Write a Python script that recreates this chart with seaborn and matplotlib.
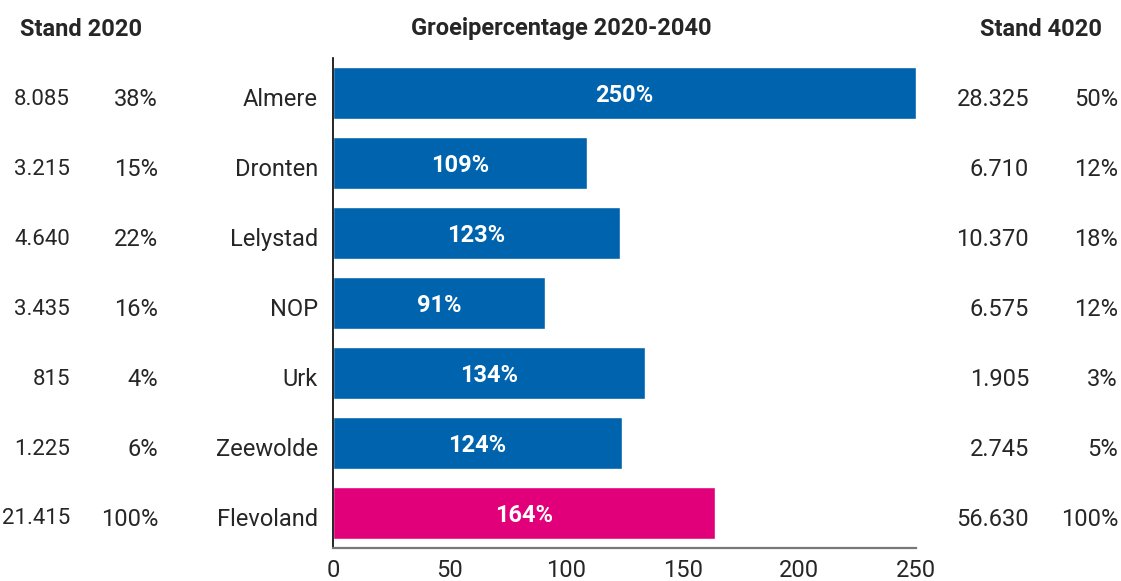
import matplotlib
matplotlib.use("Agg")
import matplotlib.pyplot as plt
import matplotlib.transforms as mtransforms
import pandas as pd
import seaborn as sns

# ─── Data ────────────────────────────────────────────────────────────────────
gemeenten = ["Almere", "Dronten", "Lelystad", "NOP", "Urk", "Zeewolde", "Flevoland"]
groei = [250, 109, 123, 91, 134, 124, 164]
stand_2020 = ["8.085", "3.215", "4.640", "3.435", "815", "1.225", "21.415"]
aandeel_2020 = ["38%", "15%", "22%", "16%", "4%", "6%", "100%"]
stand_4020 = ["28.325", "6.710", "10.370", "6.575", "1.905", "2.745", "56.630"]
aandeel_4020 = ["50%", "12%", "18%", "12%", "3%", "5%", "100%"]
xticks = [0, 50, 100, 150, 200, 250]

BLAUW = "#0063AE"
ROZE = "#E2007A"

sns.set_theme(style="white")
plt.rcParams["font.family"] = ["Roboto", "DejaVu Sans"]

df = pd.DataFrame({"gemeente": gemeenten, "groei": groei})
df["groep"] = ["totaal" if g == "Flevoland" else "gemeente" for g in gemeenten]

fig = plt.figure(figsize=(11.21, 5.81), dpi=100)
ax = fig.add_axes([333 / 1121, 33 / 581, 583 / 1121, 490 / 581])

sns.barplot(data=df, x="groei", y="gemeente", hue="groep",
            palette={"gemeente": BLAUW, "totaal": ROZE},
            dodge=False, legend=False, width=0.73, saturation=1, ax=ax)

ax.set_xlim(0, 250)
ax.set_ylim(6.5, -0.5)
ax.set_xticks(xticks)
ax.set_xticklabels([str(t) for t in xticks], fontsize=17)
ax.set_xlabel("")
ax.set_ylabel("")
ax.set_yticks([])
ax.tick_params(axis="x", length=0, pad=8)
for s in ["top", "right"]:
    ax.spines[s].set_visible(False)
ax.spines["left"].set_color("black")
ax.spines["left"].set_linewidth(1.2)
ax.spines["bottom"].set_color("#777777")
ax.spines["bottom"].set_linewidth(1.6)

# percentages in de balken
omlaag_2 = ax.transData + mtransforms.ScaledTranslation(0, -2 / 100, fig.dpi_scale_trans)
for i, v in enumerate(groei):
    ax.text(v / 2, i, f"{v}%", transform=omlaag_2, ha="center", va="center",
            color="white", fontsize=17, fontweight="bold")

# kolommen links en rechts (iets lager dan het midden van de balk)
trans = mtransforms.blended_transform_factory(fig.transFigure, ax.transData)
trans = trans + mtransforms.ScaledTranslation(0, -6 / 100, fig.dpi_scale_trans)
for i, naam in enumerate(gemeenten):
    ax.text(318 / 1121, i, naam, transform=trans, ha="right", va="center", fontsize=17)
    ax.text(70 / 1121, i, stand_2020[i], transform=trans, ha="right", va="center", fontsize=16)
    ax.text(158 / 1121, i, aandeel_2020[i], transform=trans, ha="right", va="center", fontsize=17)
    ax.text(1029 / 1121, i, stand_4020[i], transform=trans, ha="right", va="center", fontsize=17)
    ax.text(1118 / 1121, i, aandeel_4020[i], transform=trans, ha="right", va="center", fontsize=17)

# koppen
kop_y = 1 - 29 / 581
fig.text(81 / 1121, kop_y, "Stand 2020", ha="center", va="center",
         fontsize=17, fontweight="bold")
fig.text(561 / 1121, kop_y, "Groeipercentage 2020-2040", ha="center", va="center",
         fontsize=17, fontweight="bold")
fig.text(1041 / 1121, kop_y, "Stand 4020", ha="center", va="center",
         fontsize=17, fontweight="bold")

fig.savefig("out.png", dpi=100)
